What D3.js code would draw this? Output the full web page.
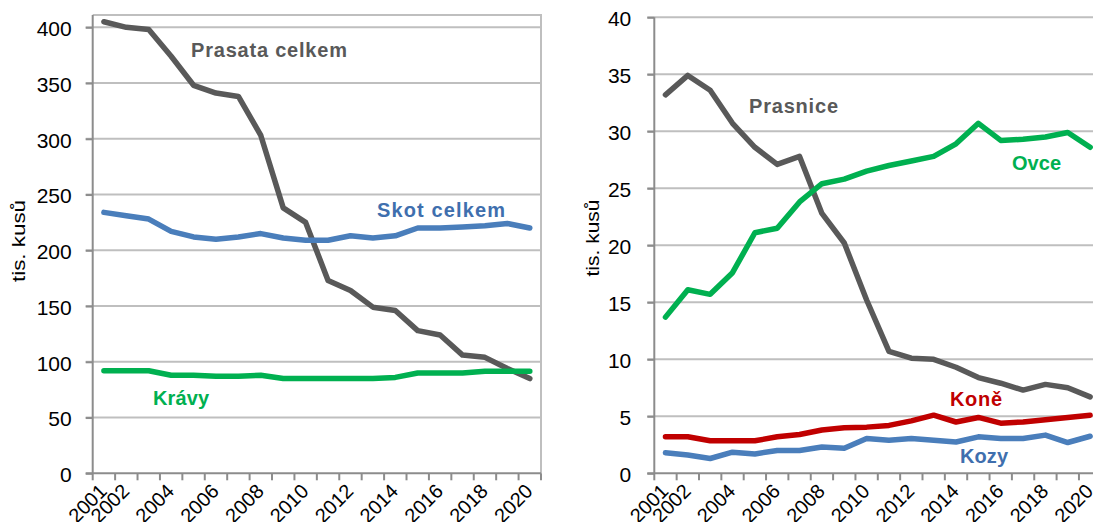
<!DOCTYPE html>
<html>
<head>
<meta charset="utf-8">
<script src="https://cdn.jsdelivr.net/npm/d3@7"></script>
<style>
  body { margin: 0; background: #fff; }
  svg { display: block; font-family: "Liberation Sans", Arial, sans-serif; }
</style>
</head>
<body>
<svg id="chart" width="1093" height="522"></svg>
<script>
"use strict";

// years on the category axis
var years = d3.range(2001, 2021).map(String);
// only these years get a label under the axis
var yearLabels = ["2001", "2002", "2004", "2006", "2008", "2010", "2012", "2014", "2016", "2018", "2020"];

// left panel (tis. kusů)
var prasataCelkem = [405, 400, 398, 374, 348, 341, 338, 303, 238, 225, 173, 164, 149, 146, 128, 124, 106, 104, 94, 85];
var skotCelkem   = [234, 231, 228, 217, 212, 210, 212, 215, 211, 209, 209, 213, 211, 213, 220, 220, 221, 222, 224, 220];
var kravy        = [92, 92, 92, 88, 88, 87, 87, 88, 85, 85, 85, 85, 85, 86, 90, 90, 90, 91.5, 91.5, 91.5];
var leftTicks = [0, 50, 100, 150, 200, 250, 300, 350, 400];

// right panel (tis. kusů)
var prasnice = [33.2, 34.9, 33.6, 30.7, 28.6, 27.1, 27.8, 22.8, 20.2, 15.2, 10.7, 10.1, 10.0, 9.3, 8.4, 7.9, 7.3, 7.8, 7.5, 6.7];
var ovce     = [13.7, 16.1, 15.7, 17.6, 21.1, 21.5, 23.8, 25.4, 25.8, 26.5, 27.0, 27.4, 27.8, 28.9, 30.7, 29.2, 29.3, 29.5, 29.9, 28.6];
var kone     = [3.2, 3.2, 2.85, 2.85, 2.85, 3.2, 3.4, 3.8, 4.0, 4.05, 4.2, 4.6, 5.1, 4.5, 4.9, 4.4, 4.5, 4.7, 4.9, 5.1];
var kozy     = [1.8, 1.6, 1.3, 1.85, 1.7, 2.0, 2.0, 2.3, 2.2, 3.05, 2.9, 3.05, 2.9, 2.75, 3.2, 3.05, 3.05, 3.35, 2.7, 3.25];
var rightTicks = [0, 5, 10, 15, 20, 25, 30, 35, 40];

var colors = {
  grey: "#595959",
  blue: "#4a7ebb",
  green: "#00b050",
  red: "#c00000",
  grid: "#bfbfbf",
  axis: "#8c8c8c"
};

var svg = d3.select("#chart");

function drawPanel(p) {
  var x = d3.scaleBand().domain(years).range([p.left, p.right]);
  var y = d3.scaleLinear().domain(p.domain).range([p.bottom, p.top]);
  var g = svg.append("g");

  // grid lines
  g.append("g").selectAll("line")
    .data(p.ticks.filter(function(d) { return d > 0; }))
    .enter().append("line")
      .attr("x1", p.left - 7).attr("x2", p.right)
      .attr("y1", function(d) { return y(d); })
      .attr("y2", function(d) { return y(d); })
      .style("stroke", colors.grid)
      .style("stroke-width", 2);

  // box around the plot area (left panel only)
  if (p.box) {
    g.append("path")
      .attr("d", "M" + p.left + "," + p.boxTop + "H" + p.right + "V" + p.bottom)
      .style("fill", "none")
      .style("stroke", colors.grid)
      .style("stroke-width", 2);
  }

  // y axis
  var yAxis = d3.axisLeft(y).tickValues(p.ticks).tickSize(7).tickPadding(p.tickPad);
  var ya = g.append("g")
    .attr("transform", "translate(" + p.left + ",0)")
    .call(yAxis);
  ya.select(".domain").remove();
  ya.append("line")
    .attr("y1", p.axisTop).attr("y2", p.bottom)
    .style("stroke", colors.axis).style("stroke-width", 2);
  ya.selectAll(".tick line").style("stroke", colors.axis).style("stroke-width", 2);
  ya.selectAll(".tick text")
    .attr("dy", "0.4em")
    .style("font-size", "21px").style("fill", "#000")
    .style("font-family", "Liberation Sans, Arial, sans-serif");

  // x axis: tick marks on category boundaries
  var bounds = years.map(function(d) { return x(d); }).concat([p.right]);
  var xa = g.append("g");
  xa.append("line")
    .attr("x1", p.left - 7).attr("x2", p.right)
    .attr("y1", p.bottom).attr("y2", p.bottom)
    .style("stroke", colors.axis).style("stroke-width", 2);
  xa.selectAll(".xt").data(bounds).enter().append("line")
    .attr("class", "xt")
    .attr("x1", function(d) { return d; }).attr("x2", function(d) { return d; })
    .attr("y1", p.bottom).attr("y2", p.bottom + 7)
    .style("stroke", colors.axis).style("stroke-width", 2);
  xa.selectAll(".xl").data(yearLabels).enter().append("text")
    .attr("class", "xl")
    .attr("transform", function(d) {
      return "translate(" + (x(d) + x.bandwidth() / 2 - 6) + "," + (p.bottom + 9) + ") rotate(-45)";
    })
    .attr("text-anchor", "end")
    .attr("dy", "0.72em")
    .style("font-size", "20px")
    .text(function(d) { return d; });

  // axis title
  g.append("text")
    .attr("transform", "translate(" + p.titleX + "," + p.titleY + ") rotate(-90)")
    .attr("text-anchor", "middle")
    .attr("textLength", p.titleLen)
    .attr("lengthAdjust", "spacingAndGlyphs")
    .style("font-size", "19px")
    .text("tis. kusů");

  // series lines
  var line = d3.line()
    .x(function(d, i) { return x(years[i]) + x.bandwidth() / 2; })
    .y(function(d) { return y(d); });

  p.series.forEach(function(s) {
    g.append("path")
      .datum(s.values)
      .attr("d", line)
      .style("fill", "none")
      .style("stroke", s.color)
      .style("stroke-width", 5.5)
      .style("stroke-linejoin", "round")
      .style("stroke-linecap", "round");
  });

  // series labels
  p.series.forEach(function(s) {
    g.append("text")
      .attr("x", s.lx).attr("y", s.ly)
      .attr("textLength", s.len)
      .attr("lengthAdjust", "spacing")
      .style("font-size", "20px")
      .style("font-weight", "bold")
      .style("fill", s.labelColor || s.color)
      .text(s.name);
  });
}

drawPanel({
  left: 92.7, right: 541, top: 27.3, bottom: 473.3,
  domain: [0, 400], ticks: leftTicks, tickPad: 14,
  box: true, boxTop: 15, axisTop: 15,
  titleX: 25, titleY: 241, titleLen: 82,
  series: [
    { name: "Prasata celkem", values: prasataCelkem, color: colors.grey, lx: 191, ly: 57, len: 156 },
    { name: "Skot celkem", values: skotCelkem, color: colors.blue, labelColor: "#3f6fae", lx: 377, ly: 217, len: 128 },
    { name: "Krávy", values: kravy, color: colors.green, lx: 153, ly: 405, len: 56 }
  ]
});

drawPanel({
  left: 654.3, right: 1101.3, top: 17.3, bottom: 473.3,
  domain: [0, 40], ticks: rightTicks, tickPad: 16,
  box: false, axisTop: 17.3,
  titleX: 599, titleY: 238, titleLen: 77,
  series: [
    { name: "Prasnice", values: prasnice, color: colors.grey, lx: 749, ly: 113, len: 89 },
    { name: "Ovce", values: ovce, color: colors.green, lx: 1012, ly: 170, len: 49 },
    { name: "Koně", values: kone, color: colors.red, lx: 950, ly: 406, len: 52 },
    { name: "Kozy", values: kozy, color: colors.blue, labelColor: "#3f6fae", lx: 960, ly: 463, len: 48 }
  ]
});
</script>
</body>
</html>
